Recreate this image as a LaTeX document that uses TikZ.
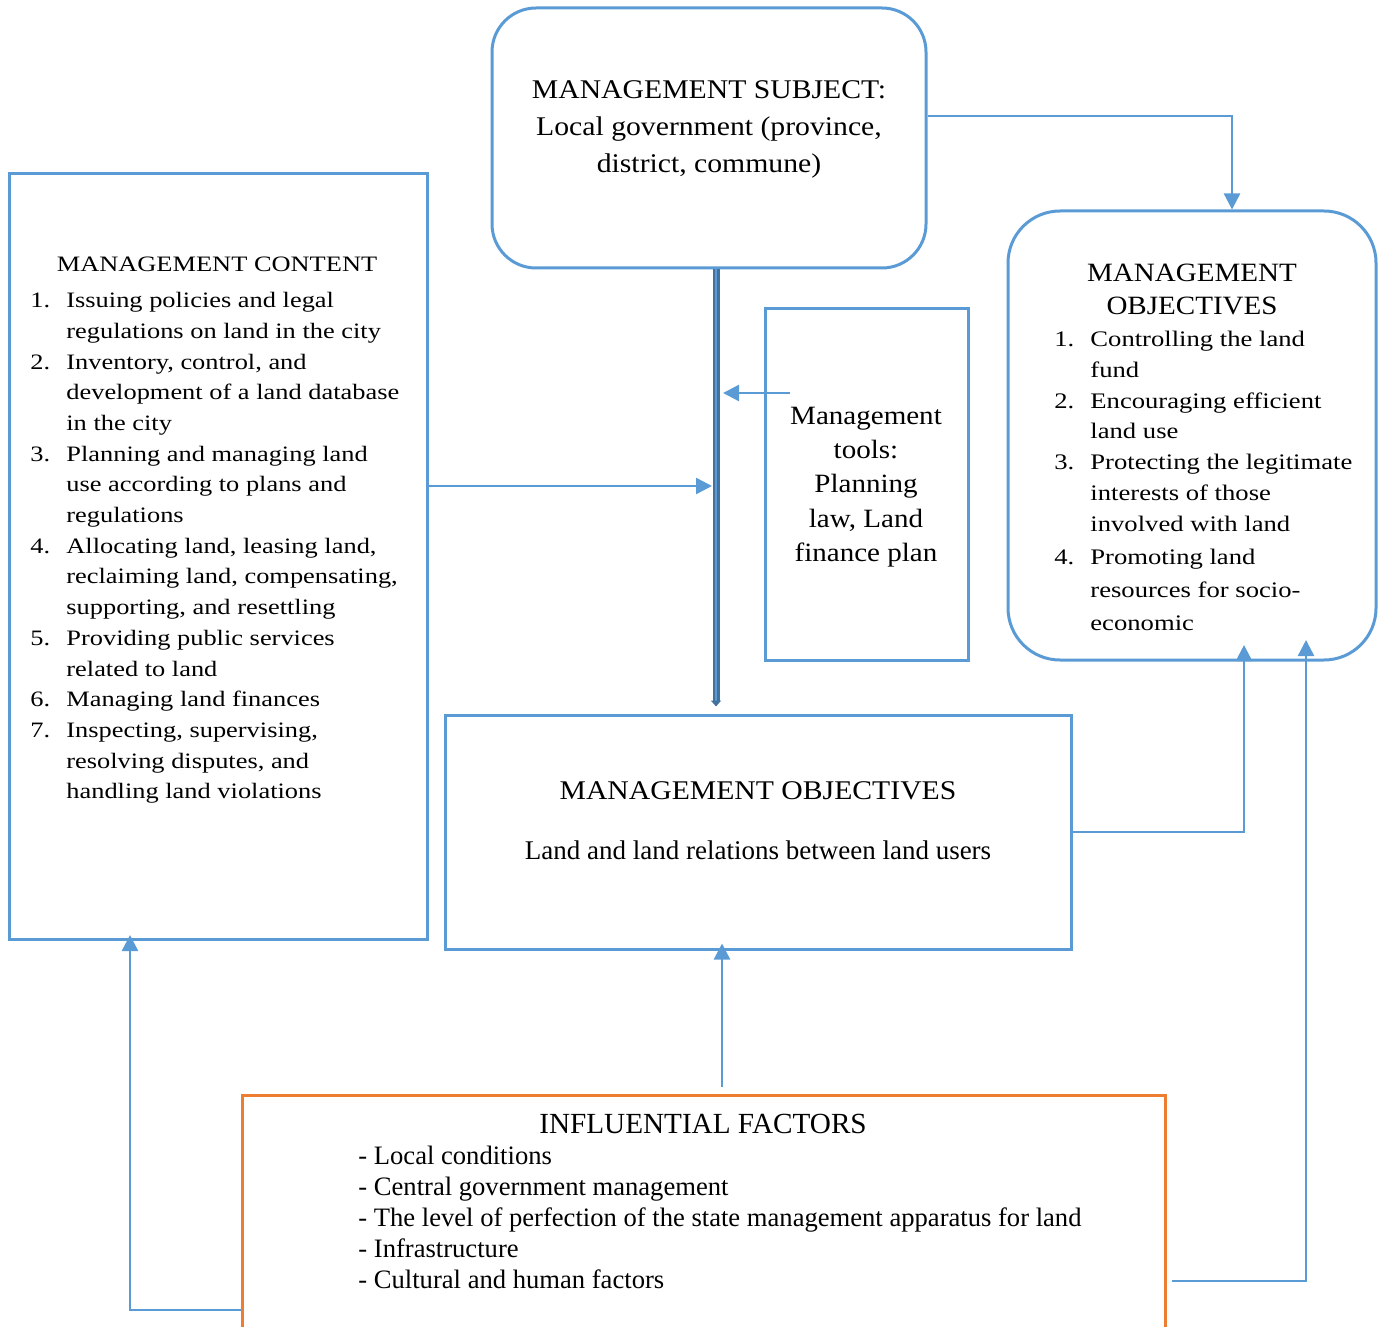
\documentclass[tikz,border=0pt]{standalone}
\usepackage{fontspec}
\setmainfont{Liberation Serif}
\newfontfamily\wideserif[FakeStretch=1.2]{Liberation Serif}
\newfontfamily\midserif[FakeStretch=1.1]{Liberation Serif}
\usepackage{xcolor}
\usetikzlibrary{positioning, arrows.meta, calc}

\definecolor{lineblue}{HTML}{5B9BD5}
\definecolor{trunkblue}{HTML}{41719C}
\definecolor{factororange}{HTML}{ED7D31}

\newcommand{\itm}[2]{\makebox[18pt][l]{#1}#2}
\newcommand{\cnt}[1]{\hspace*{18pt}#1}

\begin{document}
\begin{tikzpicture}[
    x=0.5pt, y=-0.5pt,
    box/.style={rectangle, draw=lineblue, line width=1.5pt, inner sep=0pt},
    roundbox/.style={box, rounded corners=22pt},
    factorbox/.style={rectangle, draw=factororange, line width=1.5pt, inner sep=0pt},
    txt/.style={inner sep=0pt, align=center},
    listtxt/.style={inner sep=0pt, align=left, anchor=north west},
    arr/.style={-{Triangle[length=8pt, width=8pt]}, draw=lineblue, line width=1.2pt},
    dblarr/.style={-{Triangle[length=3pt, width=5pt]}, draw=trunkblue, line width=1.2pt,
                   double=lineblue, double distance=1.1pt},
]
\useasboundingbox (0,0) rectangle (1384,1326);

% Top: management subject
\node[roundbox, minimum width=217pt, minimum height=130pt] (subj) at (709,138) {};
\node[txt, font=\midserif\fontsize{13.5}{18.5}\selectfont] (subjtxt) at (709,129)
    {MANAGEMENT SUBJECT:\\Local government (province,\\district, commune)};

% Left: management content
\node[box, minimum width=209pt, minimum height=382.5pt] (content) at (218,556.5) {};
\node[txt, font=\wideserif\fontsize{11}{15.35}\selectfont] (contitle) at (217,264) {MANAGEMENT CONTENT};
\node[listtxt, font=\wideserif\fontsize{11}{15.35}\selectfont] (conlist) at (30,292) {%
    \itm{1.}{Issuing policies and legal}\\
    \cnt{regulations on land in the city}\\
    \itm{2.}{Inventory, control, and}\\
    \cnt{development of a land database}\\
    \cnt{in the city}\\
    \itm{3.}{Planning and managing land}\\
    \cnt{use according to plans and}\\
    \cnt{regulations}\\
    \itm{4.}{Allocating land, leasing land,}\\
    \cnt{reclaiming land, compensating,}\\
    \cnt{supporting, and resettling}\\
    \itm{5.}{Providing public services}\\
    \cnt{related to land}\\
    \itm{6.}{Managing land finances}\\
    \itm{7.}{Inspecting, supervising,}\\
    \cnt{resolving disputes, and}\\
    \cnt{handling land violations}};

% Middle: management tools
\node[box, minimum width=101.5pt, minimum height=176pt] (tools) at (866.5,484) {};
\node[txt, font=\midserif\fontsize{13.2}{17.1}\selectfont] (toolstxt) at (866,487)
    {Management\\tools:\\Planning\\law, Land\\finance plan};

% Right: management objectives
\node[roundbox, rounded corners=26pt, minimum width=184pt, minimum height=224.5pt] (goals) at (1192,435.5) {};
\node[txt, font=\midserif\fontsize{13.2}{16.5}\selectfont] (goaltitle) at (1192,289.5) {MANAGEMENT\\OBJECTIVES};
\begin{scope}
\clip (1010,300) rectangle (1374,630);
\node[listtxt, font=\wideserif\fontsize{11.1}{15.35}\selectfont] (goallist) at (1054,331) {%
    \itm{1.}{Controlling the land}\\
    \cnt{fund}\\
    \itm{2.}{Encouraging efficient}\\
    \cnt{land use}\\
    \itm{3.}{Protecting the legitimate}\\
    \cnt{interests of those}\\
    \cnt{involved with land}\\[1.2pt]
    \itm{4.}{Promoting land}\\[1.2pt]
    \cnt{resources for socio-}\\[1.2pt]
    \cnt{economic}};
\end{scope}

% Centre: objects of management
\node[box, minimum width=313pt, minimum height=117pt] (object) at (758,832) {};
\node[txt, font=\fontsize{13.5}{18.5}\selectfont] (objtxt) at (758,821)
    {{\midserif MANAGEMENT OBJECTIVES}\\[11.5pt]Land and land relations between land users};

% Bottom: influential factors
\node[factorbox, minimum width=461.5pt, minimum height=130pt] (factors) at (703.5,1225) {};
\node[txt, font=\fontsize{14.6}{18}\selectfont] (factitle) at (703,1124) {INFLUENTIAL FACTORS};
\node[listtxt, font=\fontsize{13.3}{15.5}\selectfont] (faclist) at (358,1146) {%
    - Local conditions\\
    - Central government management\\
    - The level of perfection of the state management apparatus for land\\
    - Infrastructure\\
    - Cultural and human factors};

% Helper points
\coordinate (trunk) at (716,500);
\coordinate (subjrow) at (0,116);
\coordinate (goalcol) at (1232,0);
\coordinate (toolsout) at (790,393);
\coordinate (conrow) at (0,486);
\coordinate (objtip) at (1244,645);
\coordinate (facrow) at (0,1281);
\coordinate (factip) at (1306,640);
\coordinate (conrow2) at (0,1310);
\coordinate (contip) at (130,935);
\coordinate (midcol) at (722,0);

% Arrows
\draw[dblarr] (subj.south -| trunk) -- ([yshift=3.5pt]object.north -| trunk);
\draw[arr] (subj.east |- subjrow) -- (goalcol |- subjrow) -- (goalcol |- goals.north);
\draw[arr, shorten >=3.5pt] (toolsout) -- (toolsout -| trunk);
\draw[arr, shorten >=2pt] (content.east |- conrow) -- (trunk |- conrow);
\draw[arr] (object.east) -| (objtip);
\draw[arr] ([xshift=2.5pt]factors.east |- facrow) -| (factip);
\draw[arr] (factors.west |- conrow2) -| (contip);
\draw[arr, shorten >=-3.5pt] ([yshift=3.5pt]factors.north -| midcol) -- (midcol |- object.south);

\end{tikzpicture}
\end{document}
